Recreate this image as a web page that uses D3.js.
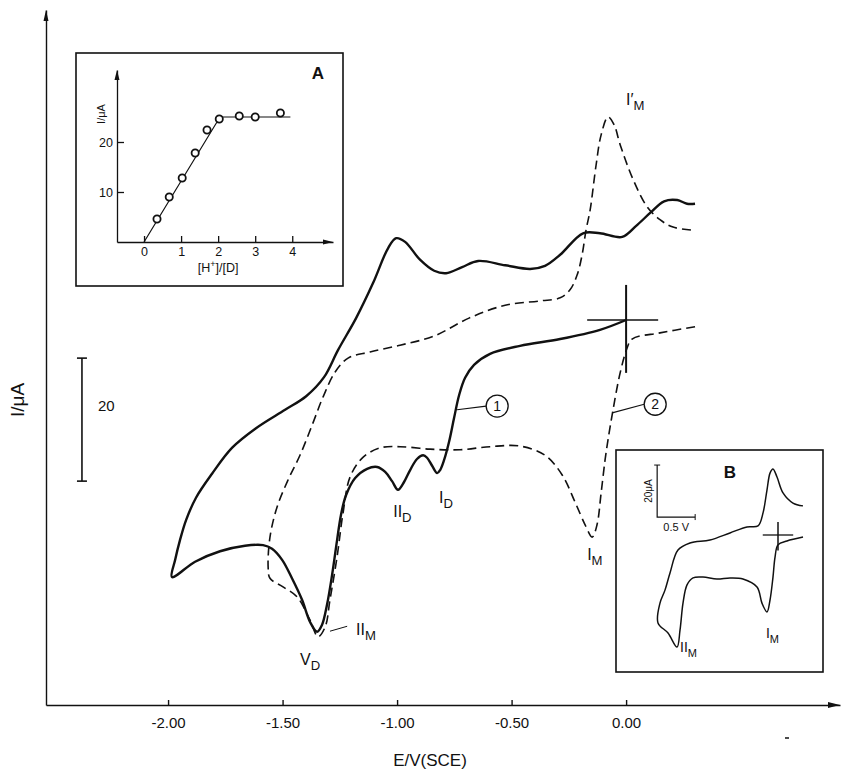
<!DOCTYPE html>
<html><head><meta charset="utf-8">
<script src="https://cdn.jsdelivr.net/npm/d3@7"></script>
<style>
body{margin:0;background:#fff}
svg{display:block}
text{font-family:"Liberation Sans",Arial,sans-serif;fill:#111}
</style>
</head><body>
<svg id="c" width="846" height="771"></svg>
<script>
// ---------- data ----------
const xTickValues = [-2.0, -1.5, -1.0, -0.5, 0.0];
// curve 1 (solid): [E / V, I / uA] in sweep order
const curve1 = [[0.00,0.0],[-0.114,-1.6],[-0.288,-3.1],[-0.463,-4.2],[-0.594,-5.5],[-0.664,-7.3],[-0.703,-9.4],[-0.729,-12.2],[-0.751,-15.9],[-0.773,-19.8],[-0.795,-22.8],[-0.812,-24.4],[-0.825,-24.9],[-0.847,-23.7],[-0.869,-22.4],[-0.886,-22.0],[-0.913,-22.6],[-0.943,-24.4],[-0.969,-26.3],[-0.996,-27.6],[-1.022,-26.2],[-1.052,-24.7],[-1.087,-23.9],[-1.131,-24.2],[-1.183,-25.7],[-1.223,-28.5],[-1.245,-31.7],[-1.262,-35.8],[-1.284,-41.5],[-1.306,-46.3],[-1.328,-49.6],[-1.349,-50.7],[-1.380,-49.1],[-1.415,-45.5],[-1.459,-42.0],[-1.502,-39.0],[-1.546,-37.2],[-1.585,-36.6],[-1.664,-36.7],[-1.773,-37.6],[-1.882,-39.3],[-1.983,-41.8],[-1.969,-39.0],[-1.948,-35.8],[-1.921,-32.5],[-1.878,-28.9],[-1.808,-25.0],[-1.721,-20.8],[-1.616,-17.6],[-1.489,-14.6],[-1.397,-12.4],[-1.319,-9.3],[-1.258,-4.9],[-1.179,0.3],[-1.105,6.0],[-1.039,11.7],[-1.004,13.3],[-0.965,12.7],[-0.900,9.8],[-0.838,8.0],[-0.786,7.6],[-0.716,8.6],[-0.646,9.6],[-0.528,8.9],[-0.419,8.3],[-0.354,8.8],[-0.288,10.6],[-0.188,14.1],[-0.114,14.1],[-0.017,13.5],[0.044,15.3],[0.105,17.4],[0.166,19.3],[0.223,19.5],[0.266,18.9],[0.301,18.9]];
// curve 2 (dashed)
const curve2 = [[0.301,-1.1],[0.148,-2.1],[0.026,-3.1],[0.004,-4.6],[-0.026,-8.6],[-0.057,-14.6],[-0.079,-19.5],[-0.092,-22.8],[-0.109,-28.1],[-0.127,-33.3],[-0.148,-35.3],[-0.179,-33.3],[-0.223,-29.6],[-0.279,-25.2],[-0.354,-22.0],[-0.463,-20.5],[-0.594,-20.6],[-0.725,-21.1],[-0.856,-21.0],[-0.987,-20.6],[-1.074,-20.8],[-1.148,-22.3],[-1.205,-25.5],[-1.236,-31.4],[-1.262,-38.5],[-1.293,-45.5],[-1.314,-49.9],[-1.345,-51.5],[-1.380,-48.8],[-1.437,-45.0],[-1.498,-43.4],[-1.555,-42.0],[-1.563,-40.2],[-1.555,-35.3],[-1.524,-30.4],[-1.476,-26.0],[-1.424,-22.0],[-1.371,-17.1],[-1.323,-12.5],[-1.271,-8.5],[-1.214,-6.2],[-1.118,-5.2],[-0.987,-4.1],[-0.838,-2.6],[-0.686,0.3],[-0.528,2.4],[-0.376,3.1],[-0.288,3.6],[-0.245,4.9],[-0.214,7.3],[-0.192,10.6],[-0.175,14.6],[-0.157,17.9],[-0.131,25.2],[-0.109,30.1],[-0.079,33.0],[-0.052,31.7],[-0.026,28.5],[0.031,22.8],[0.092,18.4],[0.148,16.3],[0.205,15.1],[0.293,14.6]];
// inset A: titration
const ratioA = [0.35,0.68,1.03,1.38,1.70,2.03,2.57,3.00,3.68];
const currentA = [4.6,9.0,12.8,17.8,22.4,24.6,25.2,25.0,25.8];
const fitA = [[0,0],[2.05,25.0],[3.95,25.0]];
const xTicksA = [0,1,2,3,4];
const yTicksA = [10,20];
// inset B: CV of monomer
const curveB = [[0.329,-0.8],[0.118,-2.3],[0.0,-3.8],[-0.039,-8.5],[-0.066,-16.2],[-0.105,-25.0],[-0.145,-29.6],[-0.211,-26.2],[-0.276,-20.0],[-0.461,-16.9],[-0.632,-16.5],[-0.803,-16.9],[-0.987,-16.2],[-1.118,-16.5],[-1.197,-19.2],[-1.25,-26.2],[-1.289,-36.5],[-1.329,-43.1],[-1.447,-37.7],[-1.579,-33.8],[-1.553,-26.2],[-1.487,-21.2],[-1.421,-14.6],[-1.316,-5.8],[-1.158,-3.1],[-0.895,-1.9],[-0.632,0.8],[-0.408,3.1],[-0.263,3.5],[-0.197,8.5],[-0.145,17.3],[-0.105,23.8],[-0.066,25.4],[-0.013,22.3],[0.066,16.2],[0.197,12.3],[0.329,11.2]];

// ---------- setup ----------
const svg = d3.select('#c');
const ink = '#111';
const x = d3.scaleLinear().domain([-2.533, 0.934]).range([46, 840]);
const y = d3.scaleLinear().domain([-62.6, 50.4]).range([705, 10]);

// axes
const xAxis = d3.axisBottom(x).tickValues(xTickValues).tickSizeInner(-5).tickSizeOuter(0)
  .tickPadding(12).tickFormat(d => d.toFixed(2));
const gx = svg.append('g').attr('transform', `translate(0,${y(-62.6)})`).call(xAxis);
gx.selectAll('text').style('font-size','15px').attr('fill', ink);
gx.selectAll('path,line').attr('stroke', ink).attr('stroke-width', 1.4);
svg.append('path').attr('d', `M${x(0.934)},${y(-62.6)} l-12,-3 l0,6 z`).attr('fill', ink);

const yAxis = d3.axisLeft(y).tickValues([]).tickSizeOuter(0);
const gy = svg.append('g').attr('transform', `translate(${x(-2.533)},0)`).call(yAxis);
gy.selectAll('path').attr('stroke', ink).attr('stroke-width', 1.4);
svg.append('path').attr('d', `M${x(-2.533)},${y(50.4)} l-2.5,11 l5,0 z`).attr('fill', ink);

svg.append('text').attr('x', 430).attr('y', 766).attr('text-anchor','middle')
  .style('font-size','17px').text('E/V(SCE)');
svg.append('text').attr('transform','translate(24,400) rotate(-90)').attr('text-anchor','middle')
  .style('font-size','19px').text('I/μA');

// scale bar 20 uA
const sbE = -2.376;
svg.append('line').attr('x1', x(sbE)).attr('x2', x(sbE)).attr('y1', y(-6.2)).attr('y2', y(-26.2))
  .attr('stroke', ink).attr('stroke-width', 1.6);
[-6.2, -26.2].forEach(v => svg.append('line').attr('x1', x(sbE)-5).attr('x2', x(sbE)+5)
  .attr('y1', y(v)).attr('y2', y(v)).attr('stroke', ink).attr('stroke-width', 1.6));
svg.append('text').attr('x', x(sbE)+16).attr('y', y(-14.8)).style('font-size','15px').text('20');

// curves
const line = d3.line().x(d => x(d[0])).y(d => y(d[1])).curve(d3.curveCatmullRom.alpha(0.5));
svg.append('path').attr('d', line(curve2)).attr('fill','none').attr('stroke', ink)
  .attr('stroke-width', 1.6).attr('stroke-dasharray','9,5');
svg.append('path').attr('d', line(curve1)).attr('fill','none').attr('stroke', ink)
  .attr('stroke-width', 2.4).attr('stroke-linejoin','round');

// crosshair at start
svg.append('line').attr('x1', x(-0.17)).attr('x2', x(0.14)).attr('y1', y(0)).attr('y2', y(0))
  .attr('stroke', ink).attr('stroke-width', 1.6);
svg.append('line').attr('x1', x(0)).attr('x2', x(0)).attr('y1', y(5.7)).attr('y2', y(-8.6))
  .attr('stroke', ink).attr('stroke-width', 2);

// labels with subscripts
function lab(E, I, main, sub, size, prime) {
  const t = svg.append('text').attr('x', x(E)).attr('y', y(I)).style('font-size', size + 'px');
  t.append('tspan').text(main + (prime ? '\u2032' : ''));
  t.append('tspan').attr('dy', size * 0.32).style('font-size', (size * 0.82) + 'px').text(sub);
}
lab(-1.017, -32.0, 'II', 'D', 16);
lab(-0.817, -29.8, 'I', 'D', 16);
lab(-0.170, -39.0, 'I', 'M', 16);
lab(-1.424, -56.1, 'V', 'D', 16);
lab(-1.179, -51.2, 'II', 'M', 16);
lab(0.0, 35.0, 'I', 'M', 16, true);
svg.append('line').attr('x1', x(-1.293)).attr('y1', y(-50.6)).attr('x2', x(-1.218)).attr('y2', y(-49.8))
  .attr('stroke', ink).attr('stroke-width', 1);

// circled curve numbers
function circ(E, I, lE, lI, txt) {
  svg.append('line').attr('x1', x(lE)).attr('y1', y(lI)).attr('x2', x(E) - 11).attr('y2', y(I))
    .attr('stroke', ink).attr('stroke-width', 1.2);
  svg.append('circle').attr('cx', x(E)).attr('cy', y(I)).attr('r', 11)
    .attr('fill','#fff').attr('stroke', ink).attr('stroke-width', 1.3);
  svg.append('text').attr('x', x(E)).attr('y', y(I) + 5).attr('text-anchor','middle')
    .style('font-size','14px').text(txt);
}
circ(-0.563, -14.0, -0.738, -14.6, '1');
circ(0.127, -13.7, -0.061, -15.1, '2');

// tiny scan mark
svg.append('line').attr('x1', 785).attr('x2', 789).attr('y1', 738).attr('y2', 738).attr('stroke', ink).attr('stroke-width', 1.5);

// ---------- inset A ----------
const gA = svg.append('g');
gA.append('rect').attr('x', 76).attr('y', 53).attr('width', 267).attr('height', 233)
  .attr('fill','#fff').attr('stroke', ink).attr('stroke-width', 1.6);
const xA = d3.scaleLinear().domain([-0.73, 5.1]).range([117, 333]);
const yA = d3.scaleLinear().domain([0, 34.4]).range([242, 70]);
const axA = gA.append('g').attr('transform', `translate(0,${yA(0)})`)
  .call(d3.axisBottom(xA).tickValues(xTicksA).tickSizeInner(-6).tickSizeOuter(0).tickPadding(5).tickFormat(d3.format('d')));
const ayA = gA.append('g').attr('transform', `translate(${xA(-0.73)},0)`)
  .call(d3.axisLeft(yA).tickValues(yTicksA).tickSizeInner(-7).tickSizeOuter(0).tickPadding(4).tickFormat(d3.format('d')));
[axA, ayA].forEach(g => { g.selectAll('text').style('font-size','12.5px').attr('fill', ink);
  g.selectAll('path,line').attr('stroke', ink).attr('stroke-width', 1.3); });
gA.append('path').attr('d', `M${xA(5.1)},${yA(0)} l-10,-2.5 l0,5 z`).attr('fill', ink);
gA.append('path').attr('d', `M${xA(-0.73)},${yA(34.4)} l-2.5,10 l5,0 z`).attr('fill', ink);
gA.append('path').attr('d', d3.line().x(d => xA(d[0])).y(d => yA(d[1]))(fitA))
  .attr('fill','none').attr('stroke', ink).attr('stroke-width', 1.2);
gA.selectAll('circle.pt').data(ratioA).enter().append('circle').attr('class','pt')
  .attr('cx', d => xA(d)).attr('cy', (d, i) => yA(currentA[i])).attr('r', 3.6)
  .attr('fill','#fff').attr('stroke', ink).attr('stroke-width', 1.8);
gA.append('text').attr('transform', `translate(${xA(-0.73)-12},${yA(25.6)}) rotate(-90)`)
  .attr('text-anchor','middle').style('font-size','11px').text('I/μA');
const tA = gA.append('text').attr('x', xA(2)).attr('y', 272).attr('text-anchor','middle').style('font-size','12.5px');
tA.append('tspan').text('[H');
tA.append('tspan').attr('dy', -5).style('font-size','9px').text('+');
tA.append('tspan').attr('dy', 5).text(']/[D]');
gA.append('text').attr('x', 318).attr('y', 79).attr('text-anchor','middle')
  .style('font-size','17px').style('font-weight','bold').text('A');

// ---------- inset B ----------
const gB = svg.append('g');
gB.append('rect').attr('x', 616).attr('y', 450).attr('width', 207).attr('height', 222)
  .attr('fill','#fff').attr('stroke', ink).attr('stroke-width', 1.6);
const xB = d3.scaleLinear().domain([0, 0.5]).range([778, 816]);
const yB = d3.scaleLinear().domain([0, 20]).range([535, 483]);
gB.append('path').attr('d', d3.line().x(d => xB(d[0])).y(d => yB(d[1])).curve(d3.curveCatmullRom.alpha(0.5))(curveB))
  .attr('fill','none').attr('stroke', ink).attr('stroke-width', 1.5);
gB.append('line').attr('x1', xB(-0.2)).attr('x2', xB(0.2)).attr('y1', yB(0)).attr('y2', yB(0))
  .attr('stroke', ink).attr('stroke-width', 1.3);
gB.append('line').attr('x1', xB(0)).attr('x2', xB(0)).attr('y1', yB(5)).attr('y2', yB(-6))
  .attr('stroke', ink).attr('stroke-width', 1.5);
// scale bars
const sbBE = -1.59, sbBI = 6.9;
gB.append('path').attr('d', `M${xB(sbBE)},${yB(sbBI+20)} L${xB(sbBE)},${yB(sbBI)} L${xB(sbBE+0.5)},${yB(sbBI)}`)
  .attr('fill','none').attr('stroke', ink).attr('stroke-width', 1.2);
gB.append('line').attr('x1', xB(sbBE)-3).attr('x2', xB(sbBE)+3).attr('y1', yB(sbBI+20)).attr('y2', yB(sbBI+20)).attr('stroke', ink);
gB.append('line').attr('x1', xB(sbBE+0.5)).attr('x2', xB(sbBE+0.5)).attr('y1', yB(sbBI)-3).attr('y2', yB(sbBI)+3).attr('stroke', ink);
gB.append('text').attr('transform', `translate(${xB(sbBE)-5},${yB(sbBI+10)}) rotate(-90)`)
  .attr('text-anchor','middle').style('font-size','10px').text('20μA');
gB.append('text').attr('x', xB(sbBE+0.25)).attr('y', yB(sbBI) + 14).attr('text-anchor','middle')
  .style('font-size','11px').text('0.5 V');
gB.append('text').attr('x', 730).attr('y', 478).attr('text-anchor','middle')
  .style('font-size','17px').style('font-weight','bold').text('B');
function labB(px, py, main, sub) {
  const t = gB.append('text').attr('x', px).attr('y', py).style('font-size','14px');
  t.append('tspan').text(main);
  t.append('tspan').attr('dy', 5).style('font-size','11px').text(sub);
}
labB(xB(-0.145) - 1, yB(-39.6), 'I', 'M');
labB(xB(-1.25) - 3, yB(-44.9), 'II', 'M');
</script>
</body></html>
